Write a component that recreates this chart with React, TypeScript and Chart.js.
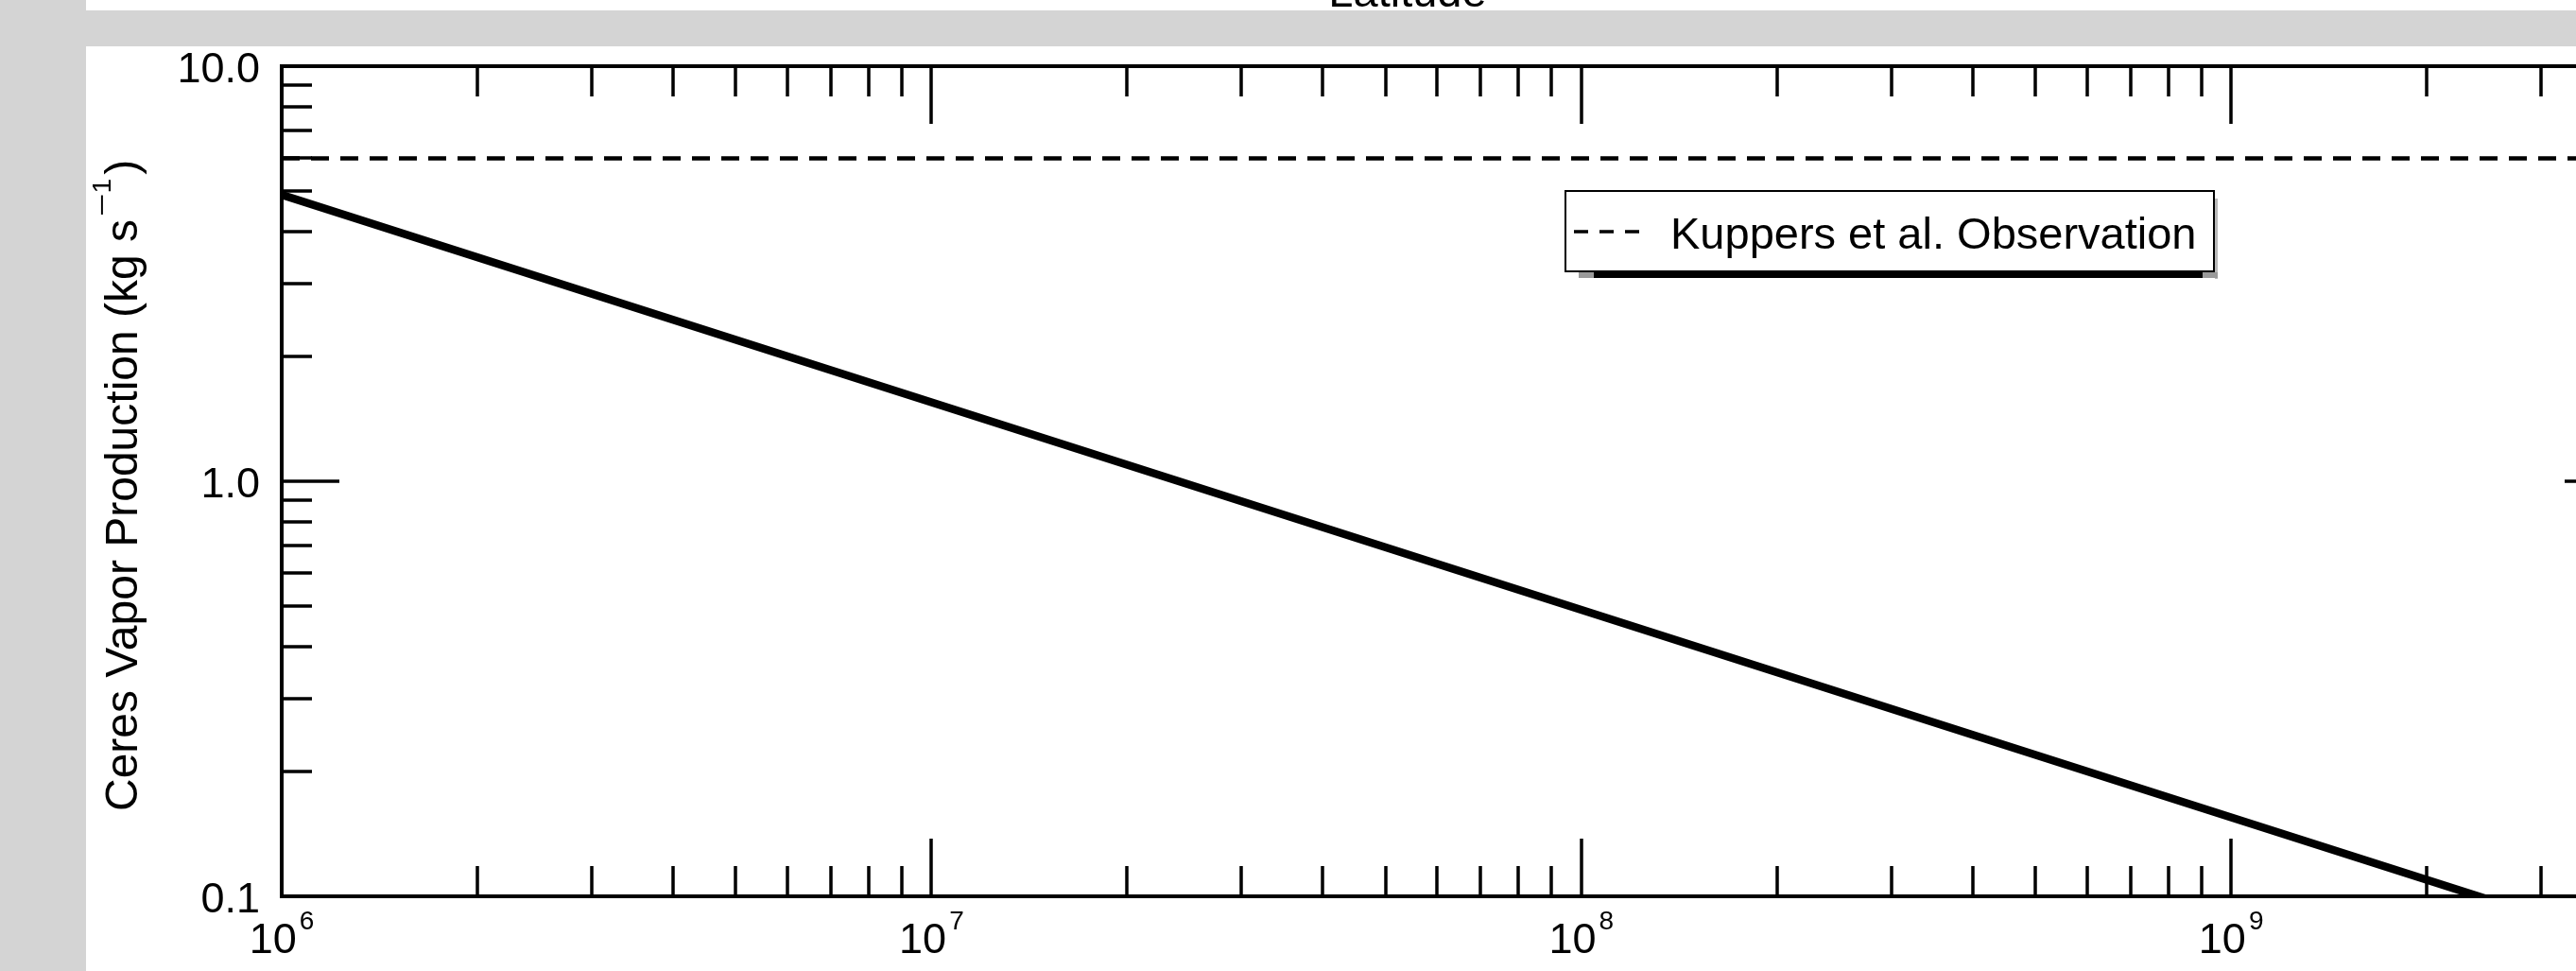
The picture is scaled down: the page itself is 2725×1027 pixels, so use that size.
import { useEffect, useRef } from 'react';
import { Chart, registerables } from 'chart.js';

Chart.register(...registerables);

const FONT = '"Liberation Sans", Arial, Helvetica, sans-serif';

// Axis ranges (log-log)
const xRange = [1e6, 4e9];
const yRange = [0.1, 10];

// Decade ticks and their labels
const xDecades = [1e6, 1e7, 1e8, 1e9];
const xExponents = ['6', '7', '8', '9'];
const yDecades = [0.1, 1, 10];
const yDecadeLabels = ['0.1', '1.0', '10.0'];
const minorMultipliers = [2, 3, 4, 5, 6, 7, 8, 9];

// Modelled vapor production vs. x
const modelX = [1e6, 1e7, 1e8, 1e9, 4e9];
const modelY = [4.9, 1.55, 0.49, 0.155, 0.0775];

// Observed production rate (horizontal reference)
const observedX = [1e6, 4e9];
const observedY = [6.0, 6.0];

const topTitle = 'Latitude';
const yTitleMain = 'Ceres Vapor Production (kg s';
const yTitleSup = '\u22121';
const yTitleEnd = ')';
const legendLabel = 'Kuppers et al. Observation';

const CANVAS_W = 2800;
const CANVAS_H = 1027;

const framePlugin = {
  id: 'idlFrame',
  beforeDraw(chart: any) {
    const ctx = chart.ctx as CanvasRenderingContext2D;
    const W = chart.width;
    const H = chart.height;
    ctx.save();
    ctx.fillStyle = '#ffffff';
    ctx.fillRect(0, 0, W, H);
    // title of the panel above, mostly cut away
    ctx.fillStyle = '#000';
    ctx.font = `47px ${FONT}`;
    ctx.textAlign = 'center';
    ctx.textBaseline = 'alphabetic';
    ctx.fillText(topTitle, 1489, 7);
    // gray page margins
    ctx.fillStyle = '#d4d4d4';
    ctx.fillRect(0, 11, W, 38);
    ctx.fillRect(0, 0, 91, H);
    ctx.restore();
  },
  afterDatasetsDraw(chart: any) {
    const ctx = chart.ctx as CanvasRenderingContext2D;
    const { left, right, top, bottom } = chart.chartArea;
    const xs = chart.scales.x;
    const ys = chart.scales.y;
    const MAJOR = 61;
    const MINOR = 32;

    ctx.save();
    ctx.strokeStyle = '#000';
    ctx.lineCap = 'butt';
    ctx.lineWidth = 3.5;

    const vline = (px: number, len: number) => {
      ctx.beginPath();
      ctx.moveTo(px, bottom);
      ctx.lineTo(px, bottom - len);
      ctx.moveTo(px, top);
      ctx.lineTo(px, top + len);
      ctx.stroke();
    };
    const hline = (py: number, len: number) => {
      ctx.beginPath();
      ctx.moveTo(left, py);
      ctx.lineTo(left + len, py);
      ctx.moveTo(right, py);
      ctx.lineTo(right - len, py);
      ctx.stroke();
    };

    // x ticks (inward, bottom and top)
    xDecades.forEach((d) => {
      vline(Math.round(xs.getPixelForValue(d)), MAJOR);
      minorMultipliers.forEach((m) => {
        const v = m * d;
        if (v <= xs.max) vline(Math.round(xs.getPixelForValue(v)), MINOR);
      });
    });
    // y ticks (inward, left and right)
    yDecades.forEach((d) => {
      hline(Math.round(ys.getPixelForValue(d)), MAJOR);
      minorMultipliers.forEach((m) => {
        const v = m * d;
        if (v < ys.max) hline(Math.round(ys.getPixelForValue(v)), MINOR);
      });
    });

    // frame
    ctx.lineWidth = 4;
    ctx.strokeRect(left, top, right - left, bottom - top);

    ctx.fillStyle = '#000';
    ctx.textBaseline = 'alphabetic';

    // x tick labels: 10 with superscript exponent
    xDecades.forEach((d, i) => {
      const px = xs.getPixelForValue(d);
      ctx.font = `45px ${FONT}`;
      const wBase = ctx.measureText('10').width;
      ctx.font = `28px ${FONT}`;
      const wExp = ctx.measureText(xExponents[i]).width;
      const total = wBase + 3 + wExp;
      const x0 = px - total / 2;
      ctx.textAlign = 'left';
      ctx.font = `45px ${FONT}`;
      ctx.fillText('10', x0, bottom + 60);
      ctx.font = `28px ${FONT}`;
      ctx.fillText(xExponents[i], x0 + wBase + 3, bottom + 35);
    });

    // y tick labels
    ctx.font = `45px ${FONT}`;
    ctx.textAlign = 'right';
    yDecades.forEach((d, i) => {
      const py = ys.getPixelForValue(d);
      ctx.fillText(yDecadeLabels[i], left - 23, py + 17);
    });

    // y title, rotated, with superscript unit
    ctx.save();
    ctx.translate(145, 858);
    ctx.rotate(-Math.PI / 2);
    ctx.textAlign = 'left';
    ctx.font = `48px ${FONT}`;
    ctx.fillText(yTitleMain, 0, 0);
    let pos = ctx.measureText(yTitleMain).width + 3;
    ctx.font = `28px ${FONT}`;
    const minusW = ctx.measureText('\u2212').width;
    ctx.save();
    ctx.translate(pos, -28);
    ctx.scale(1.5, 1);
    ctx.fillText('\u2212', 0, 0);
    ctx.restore();
    pos += minusW * 1.5;
    ctx.fillText(yTitleSup.slice(1), pos, -28);
    pos += ctx.measureText(yTitleSup.slice(1)).width + 4;
    ctx.font = `48px ${FONT}`;
    ctx.fillText(yTitleEnd, pos, 0);
    ctx.restore();

    // legend box
    const bx = 1656, by = 202, bw = 686, bh = 85;
    ctx.fillStyle = '#b8b8b8';
    ctx.fillRect(bx + bw + 1, by + 8, 3, bh);
    ctx.fillStyle = '#9a9a9a';
    ctx.fillRect(bx + 14, by + bh + 1, bw - 10, 6);
    ctx.fillStyle = '#000';
    ctx.fillRect(bx + 30, by + bh + 1, bw - 42, 6);
    ctx.fillStyle = '#ffffff';
    ctx.fillRect(bx, by, bw, bh);
    ctx.strokeStyle = '#000';
    ctx.lineWidth = 2;
    ctx.strokeRect(bx, by, bw, bh);

    ctx.lineWidth = 3.5;
    ctx.setLineDash([15, 12]);
    ctx.beginPath();
    ctx.moveTo(bx + 9, by + 43);
    ctx.lineTo(bx + 90, by + 43);
    ctx.stroke();
    ctx.setLineDash([]);

    ctx.fillStyle = '#000';
    ctx.textAlign = 'left';
    ctx.font = `47px ${FONT}`;
    ctx.fillText(legendLabel, bx + 111, by + 61);

    ctx.restore();
  },
};

export default function App() {
  const canvasRef = useRef<HTMLCanvasElement | null>(null);

  useEffect(() => {
    const canvas = canvasRef.current;
    if (!canvas) return;
    const chart = new Chart(canvas, {
      type: 'line',
      data: {
        datasets: [
          {
            label: 'Model',
            data: modelX.map((x, i) => ({ x, y: modelY[i] })),
            borderColor: '#000',
            borderWidth: 8.5,
            pointRadius: 0,
            tension: 0,
            fill: false,
            clip: 0,
          },
          {
            label: legendLabel,
            data: observedX.map((x, i) => ({ x, y: observedY[i] })),
            borderColor: '#000',
            borderWidth: 4.5,
            borderDash: [19, 12],
            pointRadius: 0,
            tension: 0,
            fill: false,
            clip: 0,
          },
        ],
      },
      options: {
        responsive: false,
        maintainAspectRatio: false,
        animation: false,
        devicePixelRatio: 1,
        layout: {
          padding: { left: 298, top: 70, right: CANVAS_W - 2774, bottom: CANVAS_H - 948 },
        },
        plugins: {
          legend: { display: false },
          tooltip: { enabled: false },
          title: { display: false },
        },
        scales: {
          x: { type: 'logarithmic', min: xRange[0], max: xRange[1], display: false },
          y: { type: 'logarithmic', min: yRange[0], max: yRange[1], display: false },
        },
      },
      plugins: [framePlugin],
    } as any);
    return () => chart.destroy();
  }, []);

  return (
    <div
      style={{
        position: 'absolute',
        left: 0,
        top: 0,
        width: 2725,
        height: 1027,
        overflow: 'hidden',
        background: '#fff',
      }}
    >
      <canvas
        ref={canvasRef}
        width={CANVAS_W}
        height={CANVAS_H}
        style={{ width: CANVAS_W, height: CANVAS_H, display: 'block' }}
      />
    </div>
  );
}
